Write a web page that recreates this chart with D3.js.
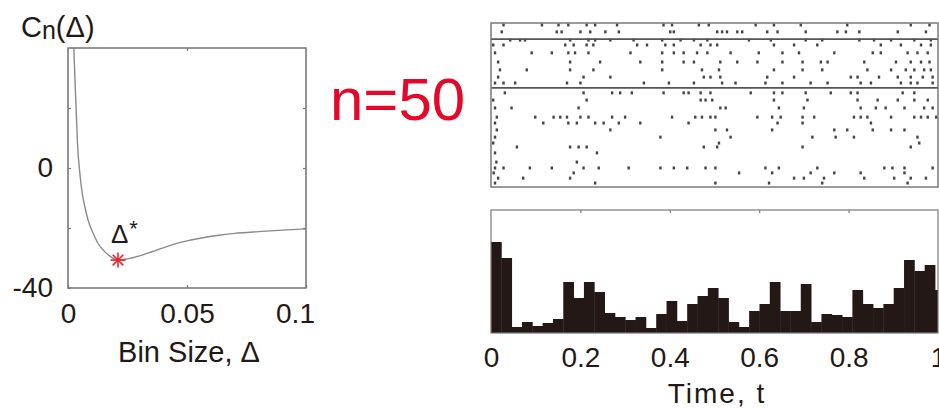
<!DOCTYPE html>
<html lang="en">
<meta charset="utf-8">
<head>
    <script src="https://d3js.org/d3.v7.min.js"></script>
    <style>
        body { margin: 0; background: #fff; }
        text { font-family: "Liberation Sans", Arial, sans-serif; fill: #231815; }
    </style>
</head>
<body>
<script>
// cost function C_n(delta)
const binSizes = [0.0022, 0.0025, 0.003, 0.0034, 0.004, 0.005, 0.006, 0.0071, 0.0085, 0.0105, 0.0125, 0.0147,
    0.0175, 0.021, 0.025, 0.03, 0.035, 0.04, 0.045, 0.05, 0.055, 0.0626, 0.07, 0.08, 0.09, 0.1];
const costValues = [48, 39, 28, 20, 8, -2, -8.5, -13, -17.5, -21.7, -25, -27.3,
    -29.3, -30.7, -30.3, -29.3, -28, -26.6, -25.3, -24.3, -23.5, -22.5, -21.8, -21.2, -20.7, -20.3];
const optimum = {delta: 0.021, cost: -30.7};

// histogram (bin width = optimal delta), heights in counts
const binWidth = 0.0231;
const histCounts = [91, 75, 6, 11, 7, 10, 14, 51, 35, 51, 41, 20, 16, 13, 16, 5, 19, 32, 12, 29, 37, 45,
    35, 11, 6, 22, 29, 51, 22, 22, 49, 11, 19, 18, 16, 43, 29, 25, 29, 45, 73, 62, 68, 43];

// raster: trial position and spike times
const rasterTrials = [0.6, 2.7, 5.2, 6.7, 9.1, 11.9, 14.3, 16.5, 18.3, 21.3, 23.5, 25.9, 28.7, 30.5,
    32.6, 34.8, 36.6, 37.8, 39.6, 42.4, 44.2, 45.7, 47.3, 48.8];
const rasterTimes = [
    [0.028, 0.114, 0.151, 0.173, 0.214, 0.233, 0.282, 0.386, 0.405, 0.465, 0.487, 0.592, 0.633, 0.693, 0.797, 0.939, 0.981],
    [0.024, 0.147, 0.158, 0.2, 0.222, 0.256, 0.286, 0.401, 0.409, 0.506, 0.517, 0.528, 0.551, 0.562, 0.618, 0.641, 0.704, 0.775, 0.794, 0.824, 0.91, 0.973],
    [0.043, 0.065, 0.076, 0.177, 0.218, 0.233, 0.267, 0.319, 0.383, 0.424, 0.454, 0.484, 0.577, 0.626, 0.704, 0.741, 0.824, 0.857, 0.895, 0.947, 0.984],
    [0.005, 0.028, 0.166, 0.185, 0.214, 0.229, 0.327, 0.349, 0.39, 0.409, 0.469, 0.491, 0.506, 0.633, 0.678, 0.73, 0.872, 0.917, 0.962, 0.984],
    [0.009, 0.091, 0.136, 0.173, 0.188, 0.218, 0.312, 0.383, 0.409, 0.431, 0.461, 0.484, 0.536, 0.599, 0.652, 0.689, 0.768, 0.854, 0.872, 0.932, 0.954, 0.977],
    [0.016, 0.177, 0.244, 0.334, 0.383, 0.431, 0.454, 0.513, 0.551, 0.596, 0.652, 0.697, 0.738, 0.753, 0.835, 0.906, 0.939, 0.962, 0.981],
    [0.02, 0.08, 0.177, 0.229, 0.383, 0.472, 0.51, 0.633, 0.697, 0.741, 0.842, 0.895, 0.928, 0.947, 0.969, 0.984],
    [0.016, 0.207, 0.267, 0.476, 0.491, 0.513, 0.618, 0.678, 0.805, 0.82, 0.868, 0.91, 0.939, 0.966, 0.988],
    [0.009, 0.028, 0.054, 0.17, 0.2, 0.342, 0.398, 0.454, 0.517, 0.547, 0.614, 0.652, 0.715, 0.753, 0.827, 0.85, 0.917, 0.939, 0.954, 0.988],
    [0.031, 0.207, 0.271, 0.289, 0.315, 0.386, 0.431, 0.442, 0.469, 0.491, 0.581, 0.633, 0.652, 0.704, 0.76, 0.805, 0.82, 0.921, 0.947],
    [0.005, 0.214, 0.469, 0.48, 0.495, 0.633, 0.708, 0.82, 0.865, 0.91, 0.947, 0.977],
    [0.009, 0.046, 0.196, 0.513, 0.525, 0.644, 0.7, 0.827, 0.861, 0.883, 0.925, 0.969, 0.988],
    [0.013, 0.099, 0.14, 0.155, 0.17, 0.2, 0.218, 0.271, 0.3, 0.405, 0.457, 0.472, 0.491, 0.502, 0.596, 0.629, 0.648, 0.697, 0.723, 0.812, 0.827, 0.842, 0.895, 0.947, 0.962, 0.977, 0.996],
    [0.009, 0.117, 0.173, 0.192, 0.233, 0.252, 0.286, 0.334, 0.442, 0.641, 0.697, 0.85],
    [0.013, 0.267, 0.502, 0.528, 0.629, 0.768, 0.797, 0.854, 0.895, 0.925],
    [0.009, 0.379, 0.536, 0.719, 0.771, 0.812, 0.954],
    [0.005, 0.51, 0.958],
    [0.058, 0.177, 0.196, 0.214, 0.476, 0.506, 0.697, 0.939],
    [0.009, 0.237],
    [0.012, 0.192],
    [0.009, 0.028, 0.087, 0.136, 0.207, 0.241, 0.308, 0.379, 0.409, 0.439, 0.48, 0.502, 0.614, 0.644, 0.73, 0.88, 0.898, 0.925, 0.988],
    [0.006, 0.185, 0.555, 0.629, 0.715, 0.768, 0.827, 0.925],
    [0.016, 0.072, 0.177, 0.678, 0.7, 0.745, 0.835, 0.902, 0.939, 0.973],
    [0.009, 0.233, 0.502, 0.622, 0.741, 0.932]
];
const rasterDividers = [4.9, 19.8];

const frameColor = "#7a7a7a";

var svg = d3.select("body").append("svg")
    .attr("width", 939)
    .attr("height", 408);

// ---------- left panel: cost function ----------
var cx = d3.scaleLinear().domain([0, 0.1]).range([68, 306]);
var cy = d3.scaleLinear().domain([-40, 40]).range([288, 48]);

svg.append("clipPath").attr("id", "clipLeft")
    .append("rect")
    .attr("x", cx(0)).attr("y", cy(40))
    .attr("width", cx(0.1) - cx(0)).attr("height", cy(-40) - cy(40));

var line = d3.line()
    .x(function(d) { return cx(d[0]); })
    .y(function(d) { return cy(d[1]); })
    .curve(d3.curveMonotoneX);

svg.append("path")
    .datum(d3.zip(binSizes, costValues))
    .attr("clip-path", "url(#clipLeft)")
    .attr("d", line)
    .attr("fill", "none")
    .attr("stroke", "#8a8a8a")
    .attr("stroke-width", 1.4);

svg.append("rect")
    .attr("x", cx(0)).attr("y", cy(40))
    .attr("width", cx(0.1) - cx(0)).attr("height", cy(-40) - cy(40))
    .attr("fill", "none").attr("stroke", frameColor).attr("stroke-width", 1.6);

var cxAxis = svg.append("g")
    .attr("transform", "translate(0," + cy(-40) + ")")
    .call(d3.axisBottom(cx).tickValues([0, 0.05, 0.1]).tickSize(-3).tickPadding(15)
        .tickFormat(function(d) { return d === 0 ? "0" : d3.format("")(d); }));
svg.append("g")
    .attr("transform", "translate(0," + cy(40) + ")")
    .call(d3.axisTop(cx).tickValues([0.05]).tickSize(-3).tickFormat(""));
svg.append("g")
    .attr("transform", "translate(" + cx(0) + ",0)")
    .call(d3.axisLeft(cy).tickValues([-40, -20, 0, 20]).tickSize(-3).tickPadding(15)
        .tickFormat(function(d) { return (d === 0 || d === -40) ? d : ""; }));
svg.append("g")
    .attr("transform", "translate(" + cx(0.1) + ",0)")
    .call(d3.axisRight(cy).tickValues([-20, 0, 20]).tickSize(-3).tickFormat(""));

// last x label sits left of its tick
cxAxis.selectAll(".tick text").filter(function(d) { return d === 0.1; })
    .attr("dx", -11);

// optimum marker (8-spoke asterisk)
var star = svg.append("g")
    .attr("transform", "translate(" + cx(optimum.delta) + "," + cy(optimum.cost) + ")");
[0, 45, 90, 135].forEach(function(a) {
    var r = 7.5, t = a * Math.PI / 180;
    star.append("line")
        .attr("x1", -r * Math.cos(t)).attr("y1", -r * Math.sin(t))
        .attr("x2", r * Math.cos(t)).attr("y2", r * Math.sin(t))
        .attr("stroke", "#e8232f").attr("stroke-width", 1.6);
});

var dl = svg.append("text")
    .attr("x", cx(optimum.delta) - 7).attr("y", cy(optimum.cost) - 17)
    .style("font-size", "26px").text("Δ");
dl.append("tspan").attr("dy", -7).attr("dx", 1).style("font-size", "22px").text("*");

var ylab = svg.append("text").attr("x", 21).attr("y", 37).style("font-size", "29px").text("C");
ylab.append("tspan").attr("dy", 2).style("font-size", "25px").text("n");
ylab.append("tspan").attr("dy", -2).text("(Δ)");

svg.append("text")
    .attr("x", 189).attr("y", 362)
    .attr("text-anchor", "middle")
    .style("font-size", "29px")
    .text("Bin Size, Δ");

svg.append("text")
    .attr("x", 330).attr("y", 120)
    .style("font-size", "60px")
    .style("fill", "#e6082a")
    .text("n=50");

// ---------- right top: raster ----------
var rx = d3.scaleLinear().domain([0, 1]).range([491, 938]);
var ry = d3.scaleLinear().domain([0, 50]).range([23, 187]);

var spikes = [];
rasterTrials.forEach(function(tr, i) {
    rasterTimes[i].forEach(function(t) { spikes.push({trial: tr, time: t}); });
});

svg.append("g").selectAll("rect")
    .data(spikes)
    .join("rect")
    .attr("x", function(d) { return rx(d.time) - 1.2; })
    .attr("y", function(d) { return ry(d.trial) - 1.5; })
    .attr("width", 2.4)
    .attr("height", 3)
    .attr("fill", "#444");

svg.append("g").selectAll("line")
    .data(rasterDividers)
    .join("line")
    .attr("x1", rx(0)).attr("x2", rx(1))
    .attr("y1", function(d) { return ry(d); })
    .attr("y2", function(d) { return ry(d); })
    .attr("stroke", "#555").attr("stroke-width", 1.8);

svg.append("rect")
    .attr("x", rx(0)).attr("y", ry(0))
    .attr("width", rx(1) - rx(0)).attr("height", ry(50) - ry(0))
    .attr("fill", "none").attr("stroke", frameColor).attr("stroke-width", 1.5);

// ---------- right bottom: PSTH ----------
var hy = d3.scaleLinear().domain([0, 123]).range([333, 210]);

svg.append("clipPath").attr("id", "clipHist")
    .append("rect")
    .attr("x", rx(0)).attr("y", hy(123))
    .attr("width", rx(1) - rx(0)).attr("height", hy(0) - hy(123));

svg.append("g")
    .attr("clip-path", "url(#clipHist)")
    .selectAll("rect")
    .data(histCounts)
    .join("rect")
    .attr("x", function(d, i) { return rx(i * binWidth); })
    .attr("y", function(d) { return hy(d); })
    .attr("width", rx(binWidth) - rx(0) + 0.4)
    .attr("height", function(d) { return hy(0) - hy(d); })
    .attr("fill", "#231815");

svg.append("rect")
    .attr("x", rx(0)).attr("y", hy(123))
    .attr("width", rx(1) - rx(0)).attr("height", hy(0) - hy(123))
    .attr("fill", "none").attr("stroke", frameColor).attr("stroke-width", 1.2);

svg.append("g")
    .attr("transform", "translate(0," + hy(123) + ")")
    .call(d3.axisTop(rx).tickValues([0.2, 0.4, 0.6, 0.8]).tickSize(-3).tickFormat(""));
svg.append("g")
    .attr("transform", "translate(0," + hy(0) + ")")
    .call(d3.axisBottom(rx).tickValues([0, 0.2, 0.4, 0.6, 0.8, 1]).tickSize(0).tickPadding(14)
        .tickFormat(function(d) { return d === 0 || d === 1 ? d : d3.format(".1f")(d); }));

svg.append("text")
    .attr("x", 717).attr("y", 403)
    .attr("text-anchor", "middle")
    .style("font-size", "28px")
    .style("letter-spacing", "2px")
    .text("Time, t");

// shared axis styling
svg.selectAll(".domain").remove();
svg.selectAll(".tick line").attr("stroke", frameColor).attr("stroke-width", 1.2);
svg.selectAll(".tick text")
    .style("font-size", "28px")
    .style("font-family", "'Liberation Sans', Arial, sans-serif")
    .attr("fill", "#231815");
</script>
</body>
</html>
